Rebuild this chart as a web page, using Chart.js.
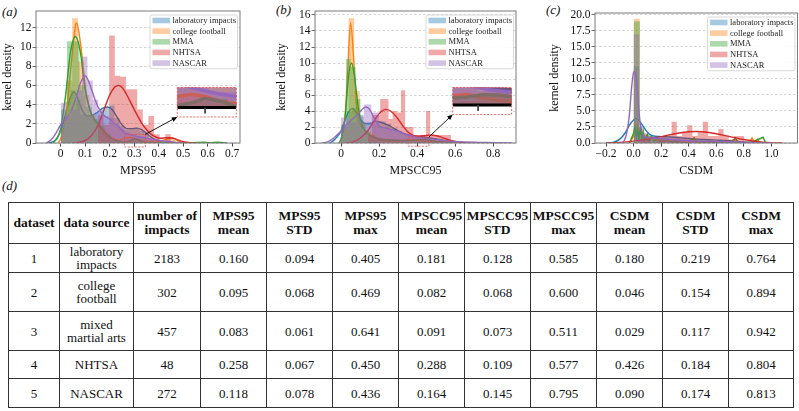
<!DOCTYPE html>
<html>
<head>
<meta charset="utf-8">
<script src="https://cdn.jsdelivr.net/npm/chart.js@4.4.0/dist/chart.umd.min.js"></script>
<style>
body { margin: 0; background: #fff; font-family: "Liberation Serif", "Times New Roman", serif; color: #111; }
#fig { position: relative; width: 799px; height: 411px; overflow: hidden; }
.panel { position: absolute; top: 0; height: 180px; }
.plabel { position: absolute; font-style: italic; font-size: 13px; line-height: 13px; }
#tbl { position: absolute; left: 8px; top: 202px; border-collapse: collapse; table-layout: fixed; font-size: 13px; }
#tbl td, #tbl th { border: 1px solid #333; text-align: center; padding: 0; line-height: 13px; }
#tbl th { font-weight: bold; font-size: 13.5px; line-height: 14px; }
</style>
</head>
<body>
<div id="fig">
  <div class="plabel" style="left:2px;top:5px">(a)</div>
  <div class="plabel" style="left:276px;top:3px">(b)</div>
  <div class="plabel" style="left:546px;top:3px">(c)</div>
  <div class="plabel" style="left:2px;top:179px">(d)</div>
  <div class="panel" style="left:0;width:250px"><canvas id="ca"></canvas></div>
  <div class="panel" style="left:270px;width:255px"><canvas id="cb"></canvas></div>
  <div class="panel" style="left:540px;width:259px"><canvas id="cc"></canvas></div>
  <table id="tbl"></table>
</div>
<script>
const series = ['laboratory impacts', 'college football', 'MMA', 'NHTSA', 'NASCAR']
const lineColors = ['#1f77b4', '#ff7f0e', '#2ca02c', '#d62728', '#9467bd']
const barColors = ['rgba(31,119,180,0.4)', 'rgba(255,127,14,0.4)', 'rgba(44,160,44,0.4)', 'rgba(214,39,40,0.4)', 'rgba(148,103,189,0.4)']

// ---- (a) MPS95 ----
const aBinStart = [0, 0, 0, 0.152, 0]
const aBinWidth = [0.02, 0.0235, 0.0256, 0.0229, 0.0218]
const aHistLab = [2.2, 4.3, 5.5, 4.5, 3.0, 2.7, 2.9, 3.2, 3.5, 3.7, 3.9, 2.6, 1.8, 1.4, 1.5, 1.6, 1.3, 1.0, 0.5, 0.25]
const aHistCf = [1.5, 6.5, 13.0, 8.5, 5.0, 3.0, 1.8, 1.4, 0.7, 0.4, 0.15, 0.5, 0.55, 0.2, 0.15, 0.15, 0.15, 0.3, 0.45, 0.45]
const aHistMma = [3.5, 10.6, 10.6, 6.0, 3.8, 2.5, 1.8, 1.0, 0.4, 0.2, 0.1, 0.3, 0.4, 0.1, 0, 0, 0, 0, 0, 0, 0, 0, 0.09, 0, 0.09]
const aHistNhtsa = [2.9, 1.9, 11.2, 7.0, 6.9, 5.6, 5.6, 3.5, 1.9, 2.8, 0.9, 0, 0.9]
const aHistNascar = [4.2, 2.8, 3.5, 5.5, 9.0, 6.5, 4.5, 3.3, 2.8, 2.6, 2.0, 1.5, 1.1, 0.9, 0.7, 0.7, 0.5, 0.35, 0.3, 0.2]
const aKdeLab = [[-0.05, 0], [-0.02, 0.3], [0, 1.3], [0.02, 3.0], [0.04, 4.8], [0.055, 5.3], [0.07, 4.6], [0.09, 3.3], [0.11, 2.8], [0.13, 2.9], [0.15, 3.2], [0.17, 3.6], [0.19, 3.75], [0.21, 3.5], [0.23, 2.7], [0.25, 1.9], [0.27, 1.5], [0.29, 1.5], [0.31, 1.55], [0.33, 1.4], [0.35, 1.0], [0.37, 0.6], [0.39, 0.3], [0.41, 0.15], [0.43, 0.05], [0.45, 0]]
const aKdeCf = [[-0.01, 0], [0, 0.5], [0.02, 2.5], [0.04, 7.5], [0.06, 12.2], [0.065, 12.5], [0.08, 10.5], [0.1, 6.0], [0.12, 3.3], [0.14, 2.2], [0.16, 1.6], [0.18, 1.2], [0.2, 0.7], [0.22, 0.4], [0.24, 0.3], [0.26, 0.5], [0.28, 0.6], [0.3, 0.5], [0.32, 0.3], [0.34, 0.2], [0.36, 0.15], [0.38, 0.2], [0.4, 0.2], [0.42, 0.3], [0.44, 0.45], [0.46, 0.5], [0.48, 0.2], [0.5, 0]]
const aKdeMma = [[-0.03, 0], [0, 1.5], [0.02, 5.0], [0.04, 9.5], [0.06, 11.1], [0.08, 9.5], [0.1, 5.5], [0.12, 3.4], [0.14, 2.4], [0.16, 1.8], [0.18, 1.1], [0.2, 0.6], [0.22, 0.3], [0.24, 0.15], [0.26, 0.1], [0.28, 0.2], [0.3, 0.42], [0.32, 0.3], [0.34, 0.1], [0.36, 0.04], [0.4, 0.02], [0.5, 0.02], [0.56, 0.05], [0.58, 0.09], [0.61, 0.04], [0.64, 0.08], [0.68, 0]]
const aKdeNhtsa = [[0.05, 0], [0.08, 0.1], [0.11, 0.4], [0.14, 1.3], [0.16, 2.3], [0.18, 3.7], [0.2, 5.0], [0.22, 5.8], [0.235, 6.0], [0.25, 5.8], [0.27, 5.0], [0.29, 4.0], [0.31, 3.0], [0.33, 2.1], [0.35, 1.4], [0.37, 0.9], [0.39, 0.6], [0.41, 0.5], [0.43, 0.55], [0.45, 0.55], [0.47, 0.4], [0.5, 0.15], [0.53, 0.03], [0.55, 0]]
const aKdeNascar = [[-0.06, 0], [-0.04, 0.3], [-0.02, 1.0], [0, 1.9], [0.02, 2.5], [0.04, 3.2], [0.06, 4.5], [0.08, 6.2], [0.1, 7.0], [0.12, 6.0], [0.14, 4.5], [0.16, 3.4], [0.18, 2.8], [0.2, 2.5], [0.22, 2.0], [0.24, 1.6], [0.26, 1.1], [0.28, 0.9], [0.3, 0.75], [0.32, 0.62], [0.34, 0.52], [0.36, 0.45], [0.38, 0.4], [0.4, 0.3], [0.44, 0.15], [0.48, 0.05], [0.5, 0]]
const aXTicks = [0, 0.1, 0.2, 0.3, 0.4, 0.5, 0.6, 0.7]
const aXLabels = ['0', '0.1', '0.2', '0.3', '0.4', '0.5', '0.6', '0.7']
const aYTicks = [0, 2, 4, 6, 8, 10, 12]
const aYLabels = ['0', '2', '4', '6', '8', '10', '12']

// ---- (b) MPSCC95 ----
const bBinStart = [0, 0.01, 0, 0.14, 0]
const bBinWidth = [0.0293, 0.0295, 0.0255, 0.0219, 0.0398]
const bHistLab = [2.3, 3.9, 4.4, 3.5, 2.6, 2.4, 2.6, 2.7, 2.4, 1.9, 1.5, 1.1, 0.9, 0.85, 0.8, 0.65, 0.5, 0.35, 0.2, 0.1]
const bHistCf = [2.0, 15.6, 6.5, 2.5, 1.5, 1.0, 0.6, 0.4, 0.3, 0.2, 0.2, 0.1, 0.2, 0.35, 0.4, 0.25, 0.1, 0.1, 0.1, 0.1]
const bHistMma = [2.0, 10.5, 9.5, 5.5, 2.5, 1.3, 0.9, 0.6, 0.45, 0.4, 0.4, 0.35, 0.3, 0.3, 0.3, 0.35, 0.45, 0.5, 0.3, 0.2]
const bHistNhtsa = [1.0, 3.5, 3.5, 5.5, 5.5, 3.0, 4.0, 3.8, 6.6, 2.0, 2.0, 1.0, 1.0, 1.0, 4.0, 1.0, 1.0, 1.0, 1.0, 1.0]
const bHistNascar = [3.2, 2.6, 3.3, 4.8, 3.8, 2.0, 1.7, 1.5, 1.2, 0.9, 0.6, 0.5, 0.45, 0.35, 0.25, 0.15, 0.1, 0.08, 0.05, 0.05]
const bKdeLab = [[-0.06, 0], [-0.04, 0.3], [-0.02, 0.8], [0, 1.5], [0.02, 2.8], [0.04, 3.9], [0.06, 4.3], [0.08, 3.8], [0.1, 3.0], [0.12, 2.5], [0.14, 2.4], [0.16, 2.5], [0.18, 2.7], [0.2, 2.65], [0.22, 2.5], [0.25, 2.2], [0.28, 1.8], [0.31, 1.4], [0.34, 1.1], [0.37, 0.9], [0.4, 0.8], [0.43, 0.75], [0.46, 0.65], [0.5, 0.5], [0.55, 0.3], [0.6, 0.12], [0.65, 0.03], [0.68, 0]]
const bKdeCf = [[-0.01, 0], [0, 0.3], [0.02, 3.0], [0.035, 9.0], [0.05, 15.0], [0.065, 11.0], [0.08, 5.0], [0.1, 2.5], [0.12, 1.8], [0.14, 1.4], [0.16, 1.0], [0.18, 0.7], [0.2, 0.5], [0.25, 0.3], [0.3, 0.2], [0.35, 0.4], [0.38, 0.45], [0.41, 0.3], [0.44, 0.2], [0.47, 0.15], [0.5, 0.15], [0.55, 0.15], [0.6, 0.1], [0.65, 0]]
const bKdeMma = [[-0.01, 0], [0, 0.5], [0.02, 3.0], [0.04, 8.5], [0.055, 10.0], [0.07, 8.5], [0.09, 4.5], [0.11, 2.3], [0.13, 1.4], [0.15, 1.0], [0.17, 0.7], [0.2, 0.5], [0.25, 0.4], [0.3, 0.35], [0.35, 0.3], [0.38, 0.35], [0.41, 0.45], [0.44, 0.42], [0.47, 0.32], [0.5, 0.2], [0.55, 0.08], [0.6, 0]]
const bKdeNhtsa = [[0.02, 0], [0.06, 0.1], [0.1, 0.6], [0.14, 1.5], [0.18, 3.0], [0.21, 3.9], [0.235, 4.2], [0.26, 4.0], [0.29, 3.3], [0.32, 2.3], [0.35, 1.4], [0.38, 0.95], [0.41, 0.85], [0.44, 0.9], [0.47, 1.0], [0.5, 0.9], [0.53, 0.7], [0.56, 0.45], [0.6, 0.2], [0.65, 0.05], [0.7, 0]]
const bKdeNascar = [[-0.1, 0], [-0.07, 0.15], [-0.04, 0.6], [0, 1.5], [0.03, 2.3], [0.06, 3.0], [0.09, 3.6], [0.11, 4.2], [0.13, 4.5], [0.15, 4.2], [0.17, 3.3], [0.19, 2.4], [0.21, 2.0], [0.23, 1.9], [0.26, 1.7], [0.3, 1.45], [0.34, 1.1], [0.38, 0.85], [0.42, 0.65], [0.46, 0.55], [0.5, 0.45], [0.55, 0.3], [0.6, 0.2], [0.7, 0.1], [0.8, 0.05], [0.9, 0]]
const bXTicks = [0, 0.2, 0.4, 0.6, 0.8]
const bXLabels = ['0', '0.2', '0.4', '0.6', '0.8']
const bYTicks = [0, 2, 4, 6, 8, 10, 12, 14, 16]
const bYLabels = ['0', '2', '4', '6', '8', '10', '12', '14', '16']

// ---- (c) CSDM ----
const cBinStart = [0, 0, 0, 0.05, 0]
const cBinWidth = [0.0382, 0.0447, 0.0471, 0.0377, 0.0407]
const cHistLab = [12.0, 2.5, 1.5, 1.2, 1.1, 1.0, 0.9, 0.9, 0.8, 0.7, 0.6, 0.55, 0.5, 0.5, 0.45, 0.4, 0.35, 0.3, 0.2, 0.15]
const cHistCf = [19.4, 0.9, 0.6, 0.4, 0.3, 0.25, 0.2, 0.15, 0.1, 0.1, 0.1, 0.05, 0.05, 0.05, 0.05, 0.05, 0.1, 0.05, 0.05, 0.05]
const cHistMma = [19.0, 1.0, 0.5, 0.4, 0.3, 0.2, 0.15, 0.15, 0.1, 0.15, 0.1, 0.05, 0.1, 0.05, 0.05, 0.1, 0.05, 0.05, 0.05, 0.1]
const cHistNhtsa = [0.55, 0.55, 0, 0.55, 1.1, 1.1, 3.3, 1.1, 1.66, 2.76, 1.1, 1.66, 3.3, 1.1, 1.1, 2.2, 1.1, 0.55, 1.1, 1.1]
const cHistNascar = [17.0, 1.3, 1.0, 0.8, 0.7, 0.6, 0.5, 0.4, 0.35, 0.3, 0.3, 0.25, 0.2, 0.2, 0.15, 0.15, 0.1, 0.1, 0.05, 0.1]
const cKdeLab = [[-0.2, 0], [-0.15, 0.1], [-0.1, 0.6], [-0.06, 1.6], [-0.03, 2.8], [0, 3.6], [0.02, 3.8], [0.04, 3.5], [0.07, 2.6], [0.1, 1.7], [0.13, 1.2], [0.16, 1.05], [0.2, 1.0], [0.25, 0.95], [0.3, 0.9], [0.35, 0.8], [0.4, 0.7], [0.45, 0.6], [0.5, 0.55], [0.55, 0.5], [0.6, 0.45], [0.65, 0.4], [0.7, 0.35], [0.75, 0.25], [0.8, 0.15], [0.85, 0.07], [0.9, 0.02], [0.95, 0]]
const cKdeCf = [[-0.03, 0], [0, 1.0], [0.01, 3.0], [0.02, 1.2], [0.03, 2.8], [0.04, 0.8], [0.05, 2.0], [0.06, 0.6], [0.07, 1.8], [0.08, 0.5], [0.09, 1.2], [0.1, 0.4], [0.12, 1.0], [0.14, 0.3], [0.16, 0.8], [0.18, 0.2], [0.2, 0.6], [0.23, 0.2], [0.26, 0.5], [0.3, 0.15], [0.35, 0.3], [0.4, 0.1], [0.45, 0.25], [0.5, 0.1], [0.55, 0.2], [0.6, 0.05], [0.65, 0.15], [0.7, 0.05], [0.74, 0.7], [0.76, 0.05], [0.8, 0.1], [0.84, 0.05], [0.86, 0.8], [0.88, 0.05], [0.9, 0.6], [0.92, 0]]
const cKdeMma = [[-0.03, 0], [0, 1.5], [0.01, 2.5], [0.02, 0.8], [0.03, 2.2], [0.04, 0.6], [0.05, 2.4], [0.06, 0.7], [0.07, 1.6], [0.08, 0.4], [0.1, 1.3], [0.11, 0.3], [0.13, 1.0], [0.15, 0.3], [0.17, 0.7], [0.2, 0.2], [0.23, 0.5], [0.27, 0.15], [0.3, 0.3], [0.35, 0.1], [0.4, 0.15], [0.44, 0.8], [0.46, 0.05], [0.5, 0.1], [0.55, 0.15], [0.6, 0.1], [0.65, 0.05], [0.7, 0.1], [0.74, 0.7], [0.76, 0.05], [0.85, 0.05], [0.94, 0.9], [0.96, 0]]
const cKdeNhtsa = [[-0.2, 0], [-0.1, 0.1], [0, 0.3], [0.1, 0.6], [0.2, 1.0], [0.3, 1.45], [0.4, 1.75], [0.45, 1.8], [0.5, 1.75], [0.6, 1.45], [0.7, 1.0], [0.8, 0.55], [0.9, 0.22], [1.0, 0.06], [1.08, 0]]
const cKdeNascar = [[-0.09, 0], [-0.07, 0.3], [-0.05, 1.5], [-0.03, 4.5], [-0.015, 8.5], [0, 11.0], [0.01, 11.2], [0.02, 10.0], [0.035, 6.0], [0.05, 2.8], [0.07, 1.3], [0.1, 0.9], [0.15, 0.8], [0.2, 0.7], [0.3, 0.5], [0.4, 0.35], [0.5, 0.3], [0.6, 0.25], [0.7, 0.2], [0.8, 0.12], [0.9, 0.05], [1.0, 0]]
const cXTicks = [-0.2, 0, 0.2, 0.4, 0.6, 0.8, 1.0]
const cXLabels = ['\u22120.2', '0.0', '0.2', '0.4', '0.6', '0.8', '1.0']
const cYTicks = [0, 2.5, 5, 7.5, 10, 12.5, 15, 17.5, 20]
const cYLabels = ['0.0', '2.5', '5.0', '7.5', '10.0', '12.5', '15.0', '17.5', '20.0']

// ---- (d) table ----
const tableHead = ['dataset', 'data source', 'number of<br>impacts', 'MPS95<br>mean', 'MPS95<br>STD', 'MPS95<br>max', 'MPSCC95<br>mean', 'MPSCC95<br>STD', 'MPSCC95<br>max', 'CSDM<br>mean', 'CSDM<br>STD', 'CSDM<br>max']
const datasetNo = ['1', '2', '3', '4', '5']
const dataSource = ['laboratory<br>impacts', 'college<br>football', 'mixed<br>martial arts', 'NHTSA', 'NASCAR']
const numImpacts = ['2183', '302', '457', '48', '272']
const mps95Mean = ['0.160', '0.095', '0.083', '0.258', '0.118']
const mps95Std = ['0.094', '0.068', '0.061', '0.067', '0.078']
const mps95Max = ['0.405', '0.469', '0.641', '0.450', '0.436']
const mpscc95Mean = ['0.181', '0.082', '0.091', '0.288', '0.164']
const mpscc95Std = ['0.128', '0.068', '0.073', '0.109', '0.145']
const mpscc95Max = ['0.585', '0.600', '0.511', '0.577', '0.795']
const csdmMean = ['0.180', '0.046', '0.029', '0.426', '0.090']
const csdmStd = ['0.219', '0.154', '0.117', '0.184', '0.174']
const csdmMax = ['0.764', '0.894', '0.942', '0.804', '0.813']

const family = '"Liberation Serif", "Times New Roman", serif'

function histPoints(start, width, heights) {
    const pts = heights.map((h, k) => ({ x: start + k * width, y: h }))
    pts.push({ x: start + heights.length * width, y: 0 })
    return pts
}

// white legend box inside the axes, top right
function legendPlugin() {
    return {
        id: 'boxLegend',
        afterDraw(chart) {
            const { ctx, chartArea: a } = chart
            const rowH = 10.65, w = 87.5
            const x0 = a.right - 2.5 - w, y0 = a.top + 4
            const h = rowH * series.length + 0.5
            ctx.save()
            ctx.beginPath()
            ctx.roundRect(x0, y0, w, h, 2)
            ctx.fillStyle = 'rgba(255,255,255,0.85)'
            ctx.fill()
            ctx.strokeStyle = '#cfcfcf'
            ctx.lineWidth = 0.8
            ctx.stroke()
            ctx.font = '8.5px ' + family
            ctx.textBaseline = 'middle'
            ctx.fillStyle = '#222'
            for (let i = 0; i < series.length; i++) {
                const cy = y0 + 5.5 + i * rowH
                ctx.fillStyle = barColors[i]
                ctx.fillRect(x0 + 2.5, cy - 2.8, 17.5, 5.6)
                ctx.fillStyle = '#222'
                ctx.fillText(series[i], x0 + 22.5, cy + 0.3)
            }
            ctx.restore()
        }
    }
}

const framePlugin = {
    id: 'frame',
    afterDatasetsDraw(chart) {
        const { ctx, chartArea: a } = chart
        ctx.save()
        ctx.strokeStyle = '#7a7a7a'
        ctx.lineWidth = 1
        ctx.strokeRect(a.left, a.top, a.right - a.left, a.bottom - a.top)
        ctx.restore()
    }
}

// magnified view of a small region, redrawn from the same datasets
function insetPlugin(p) {
    return {
        id: 'inset',
        afterDatasetsDraw(chart) {
            const cfg = p.inset
            if (!cfg) return
            const { ctx } = chart
            const xs = chart.scales.x, ys = chart.scales.y
            const L = xs.getPixelForValue(cfg.box[0]), R = xs.getPixelForValue(cfg.box[1])
            const B = ys.getPixelForValue(cfg.box[2]), T = ys.getPixelForValue(cfg.box[3])
            const zx0 = xs.getPixelForValue(cfg.zoom[0]), zx1 = xs.getPixelForValue(cfg.zoom[1])
            const zy0 = ys.getPixelForValue(cfg.zoom[2]), zy1 = ys.getPixelForValue(cfg.zoom[3])
            const kx = (R - L) / (zx1 - zx0), ky = (T - B) / (zy1 - zy0)
            const mx = v => L + (xs.getPixelForValue(v) - zx0) * kx
            const my = v => B + (ys.getPixelForValue(v) - zy0) * ky

            ctx.save()
            ctx.beginPath()
            ctx.rect(L, T, R - L, B - T)
            ctx.clip()
            ctx.fillStyle = '#fff'
            ctx.fillRect(L, T, R - L, B - T)
            for (let i = 0; i < series.length; i++) {
                const pts = histPoints(p.binStart[i], p.binWidth[i], p.hist[i])
                ctx.beginPath()
                ctx.moveTo(mx(pts[0].x), my(0))
                for (let k = 0; k < pts.length - 1; k++) {
                    ctx.lineTo(mx(pts[k].x), my(pts[k].y))
                    ctx.lineTo(mx(pts[k + 1].x), my(pts[k].y))
                }
                ctx.lineTo(mx(pts[pts.length - 1].x), my(0))
                ctx.closePath()
                ctx.fillStyle = barColors[i]
                ctx.fill()
                ctx.beginPath()
                p.kde[i].forEach((d, k) => k ? ctx.lineTo(mx(d[0]), my(d[1])) : ctx.moveTo(mx(d[0]), my(d[1])))
                ctx.strokeStyle = lineColors[i]
                ctx.lineWidth = 3.5
                ctx.stroke()
            }
            ctx.fillStyle = '#fff'
            ctx.fillRect(L, my(0), R - L, B - my(0))
            ctx.strokeStyle = '#000'
            ctx.lineWidth = 3
            ctx.beginPath()
            ctx.moveTo(L, my(0))
            ctx.lineTo(R, my(0))
            ctx.stroke()
            ctx.strokeStyle = '#444'
            ctx.lineWidth = 1.8
            ctx.beginPath()
            ctx.moveTo(mx(cfg.tick), my(0))
            ctx.lineTo(mx(cfg.tick), my(0) + 6)
            ctx.stroke()
            ctx.restore()

            ctx.save()
            ctx.strokeStyle = '#e8474a'
            ctx.lineWidth = 0.8
            ctx.setLineDash([2, 1.5])
            ctx.strokeRect(L, T, R - L, B - T)
            ctx.strokeRect(zx0, zy1, zx1 - zx0, zy0 - zy1)
            ctx.setLineDash([])
            // arrow from zoom region to inset
            const ax = zx1, ay = zy1, bx = L, by = B
            const ang = Math.atan2(by - ay, bx - ax)
            ctx.strokeStyle = '#000'
            ctx.fillStyle = '#000'
            ctx.lineWidth = 0.9
            ctx.beginPath()
            ctx.moveTo(ax, ay)
            ctx.lineTo(bx - 4 * Math.cos(ang), by - 4 * Math.sin(ang))
            ctx.stroke()
            ctx.beginPath()
            ctx.moveTo(bx, by)
            ctx.lineTo(bx - 6 * Math.cos(ang - 0.4), by - 6 * Math.sin(ang - 0.4))
            ctx.lineTo(bx - 6 * Math.cos(ang + 0.4), by - 6 * Math.sin(ang + 0.4))
            ctx.closePath()
            ctx.fill()
            ctx.restore()
        }
    }
}

function buildChart(p) {
    const datasets = []
    for (let i = 0; i < series.length; i++) {
        datasets.push({
            label: series[i],
            data: histPoints(p.binStart[i], p.binWidth[i], p.hist[i]),
            stepped: true,
            borderColor: 'rgba(0,0,0,0)',
            borderWidth: 0,
            backgroundColor: barColors[i],
            fill: 'origin',
            pointRadius: 0
        })
        datasets.push({
            label: series[i] + ' kde',
            data: p.kde[i].map(d => ({ x: d[0], y: d[1] })),
            borderColor: lineColors[i],
            borderWidth: 1.4,
            fill: false,
            pointRadius: 0,
            tension: p.sharp[i] ? 0 : 0.4,
            cubicInterpolationMode: p.sharp[i] ? 'default' : 'monotone'
        })
    }
    // first dataset in the list is painted first
    datasets.forEach((d, k) => { d.order = datasets.length - k })

    const tickFont = { family: family, size: 11.5 }
    return new Chart(document.getElementById(p.id), {
        type: 'line',
        data: { datasets },
        options: {
            responsive: true,
            maintainAspectRatio: false,
            animation: false,
            layout: { padding: { top: p.padTop, right: p.padRight, left: 0, bottom: 0 } },
            plugins: { legend: { display: false }, tooltip: { enabled: false } },
            scales: {
                x: {
                    type: 'linear',
                    min: p.xMin,
                    max: p.xMax,
                    afterBuildTicks: ax => { ax.ticks = p.xTicks.map(v => ({ value: v })) },
                    afterFit: ax => { ax.height = 37 },
                    ticks: { callback: (v, i) => p.xLabels[i], font: tickFont, color: '#111', padding: 1, maxRotation: 0, autoSkip: false },
                    grid: { drawOnChartArea: false, tickLength: 3.5, tickColor: '#444', color: '#444' },
                    border: { display: false },
                    title: { display: true, text: p.xTitle, font: { family: family, size: 12 }, color: '#111', padding: { top: 0, bottom: 2 } }
                },
                y: {
                    type: 'linear',
                    min: 0,
                    max: p.yMax,
                    afterBuildTicks: ax => { ax.ticks = p.yTicks.map(v => ({ value: v })) },
                    afterFit: ax => { ax.width = p.yAxisW },
                    ticks: { callback: (v, i) => p.yLabels[i], font: tickFont, color: '#111', padding: 1, autoSkip: false },
                    grid: { color: '#cccccc', lineWidth: 0.8, tickLength: 3.5, tickColor: '#444', tickBorderDash: [] },
                    border: { display: false, dash: [2.5, 2] },
                    title: { display: true, text: 'kernel density', font: { family: family, size: 12 }, color: '#111', padding: { top: p.yTitlePad, bottom: 0 } }
                }
            }
        },
        plugins: [framePlugin, insetPlugin(p), legendPlugin()]
    })
}

buildChart({
    id: 'ca', xTitle: 'MPS95', xMin: -0.101, xMax: 0.732, yMax: 13.75,
    binStart: aBinStart, binWidth: aBinWidth,
    hist: [aHistLab, aHistCf, aHistMma, aHistNhtsa, aHistNascar],
    kde: [aKdeLab, aKdeCf, aKdeMma, aKdeNhtsa, aKdeNascar],
    sharp: [false, false, false, false, false],
    xTicks: aXTicks, xLabels: aXLabels, yTicks: aYTicks, yLabels: aYLabels,
    yAxisW: 36, padTop: 11, padRight: 10, yTitlePad: 1,
    inset: { zoom: [0.26, 0.345, -0.42, 0.9], box: [0.476, 0.717, 2.71, 5.78], tick: 0.3 }
})

buildChart({
    id: 'cb', xTitle: 'MPSCC95', xMin: -0.137, xMax: 0.92, yMax: 16.5,
    binStart: bBinStart, binWidth: bBinWidth,
    hist: [bHistLab, bHistCf, bHistMma, bHistNhtsa, bHistNascar],
    kde: [bKdeLab, bKdeCf, bKdeMma, bKdeNhtsa, bKdeNascar],
    sharp: [false, false, false, false, false],
    xTicks: bXTicks, xLabels: bXLabels, yTicks: bYTicks, yLabels: bYLabels,
    yAxisW: 45, padTop: 11, padRight: 9, yTitlePad: 4.5,
    inset: { zoom: [0.353, 0.462, -0.4, 0.75], box: [0.587, 0.897, 3.56, 6.94], tick: 0.4 }
})

buildChart({
    id: 'cc', xTitle: 'CSDM', xMin: -0.28, xMax: 1.19, yMax: 20.3,
    binStart: cBinStart, binWidth: cBinWidth,
    hist: [cHistLab, cHistCf, cHistMma, cHistNhtsa, cHistNascar],
    kde: [cKdeLab, cKdeCf, cKdeMma, cKdeNhtsa, cKdeNascar],
    sharp: [false, true, true, false, false],
    xTicks: cXTicks, xLabels: cXLabels, yTicks: cYTicks, yLabels: cYLabels,
    yAxisW: 55, padTop: 13, padRight: 1.5, yTitlePad: 7.8,
    inset: null
})

// table (d)
const colWidths = [51, 74, 67, 66, 66, 66, 66, 66, 66, 66, 66, 65]
const rowHeights = [41, 29, 39, 39, 28, 29]
const columns = [datasetNo, dataSource, numImpacts, mps95Mean, mps95Std, mps95Max, mpscc95Mean, mpscc95Std, mpscc95Max, csdmMean, csdmStd, csdmMax]
let html = '<colgroup>' + colWidths.map(w => '<col style="width:' + w + 'px">').join('') + '</colgroup>'
html += '<tr style="height:' + rowHeights[0] + 'px">' + tableHead.map(t => '<th>' + t + '</th>').join('') + '</tr>'
for (let r = 0; r < datasetNo.length; r++) {
    html += '<tr style="height:' + rowHeights[r + 1] + 'px">' + columns.map(col => '<td>' + col[r] + '</td>').join('') + '</tr>'
}
const tbl = document.getElementById('tbl')
tbl.innerHTML = html
tbl.style.width = colWidths.reduce((s, w) => s + w, 0) + 'px'
</script>
</body>
</html>
